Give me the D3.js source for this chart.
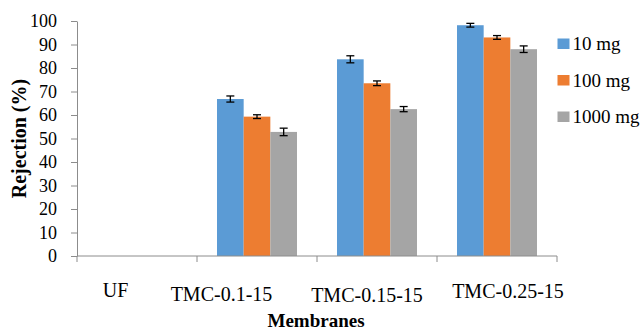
<!DOCTYPE html>
<html><head><meta charset="utf-8">
<script src="https://cdn.jsdelivr.net/npm/d3@7"></script>
<style>body{margin:0;background:#fff}svg{display:block}</style>
</head><body><svg id="c" width="643" height="331"></svg>
<script>
const categories = ["UF", "TMC-0.1-15", "TMC-0.15-15", "TMC-0.25-15"];
const seriesNames = ["10 mg", "100 mg", "1000 mg"];
const values10 = [0, 66.8, 83.7, 98.2];
const values100 = [0, 59.3, 73.5, 93.0];
const values1000 = [0, 52.8, 62.5, 88.0];
const err10 = [0, 1.3, 1.5, 0.8];
const err100 = [0, 0.8, 1.0, 0.8];
const err1000 = [0, 1.6, 1.1, 1.4];
const yTicks = [0,10,20,30,40,50,60,70,80,90,100];
const colors = ["#5B9BD5", "#ED7D31", "#A5A5A5"];
const labelShift = [-21.5, -35.5, -10, 11];
const labelDy = [-1, 3, 4, 0];
const FONT = "'Liberation Serif', 'Times New Roman', serif";

const svg = d3.select("#c").style("font-family", FONT);
const m = {l:77, r:86, t:21, b:75};
const W = 643, H = 331;
const x = d3.scaleBand().domain(categories).range([m.l, W - m.r]).paddingInner(0).paddingOuter(0);
const y = d3.scaleLinear().domain([0,100]).range([H - m.b, m.t]);
const inner = d3.scaleBand().domain(seriesNames).range([0, x.bandwidth()]).paddingOuter(0.75).paddingInner(0);
const allVals = [values10, values100, values1000];
const allErr = [err10, err100, err1000];

// bars
seriesNames.forEach((s, si) => {
  const g = svg.append("g");
  categories.forEach((c, ci) => {
    const v = allVals[si][ci];
    if (v <= 0) return;
    g.append("rect").attr("x", x(c) + inner(s)).attr("width", inner.bandwidth())
      .attr("y", y(v)).attr("height", y(0) - y(v)).attr("fill", colors[si]);
    const e = allErr[si][ci];
    const cx = x(c) + inner(s) + inner.bandwidth()/2;
    g.append("line").attr("x1", cx).attr("x2", cx).attr("y1", y(v+e)).attr("y2", y(v-e)).attr("stroke","#000").attr("stroke-width",1.3);
    [v+e, v-e].forEach(t => g.append("line").attr("x1", cx-4).attr("x2", cx+4).attr("y1", y(t)).attr("y2", y(t)).attr("stroke","#000").attr("stroke-width",1.3));
  });
});

// y axis
const ya = svg.append("g").attr("transform", `translate(${m.l},0)`)
  .call(d3.axisLeft(y).tickValues(yTicks).tickSize(6).tickSizeOuter(0).tickPadding(14));
ya.attr("font-family", null);
ya.select(".domain").attr("stroke", "#8c8c8c");
ya.selectAll(".tick line").attr("stroke", "#8c8c8c");
ya.selectAll(".tick text").attr("font-size", 18).attr("fill", "#000").style("font-family", FONT);

// x axis
const xa = svg.append("g").attr("transform", `translate(0,${y(0)})`);
xa.append("line").attr("x1", m.l).attr("x2", W - m.r).attr("y1", 0).attr("y2", 0).attr("stroke", "#8c8c8c");
const xb = categories.map(c => x(c)).concat([x(categories[categories.length-1]) + x.bandwidth()]);
xb.forEach(px => xa.append("line").attr("x1", px).attr("x2", px).attr("y1", 0).attr("y2", 6).attr("stroke", "#8c8c8c"));
categories.forEach((c, i) => {
  xa.append("text").attr("x", x(c) + x.bandwidth()/2 + labelShift[i]).attr("y", 42 + labelDy[i])
    .attr("text-anchor", "middle").attr("font-size", 20).style("font-family", FONT).text(c);
});

// axis titles
svg.append("text").attr("x", 316).attr("y", 327).attr("text-anchor","middle")
  .attr("font-size", 19).attr("font-weight","bold").style("font-family", FONT).text("Membranes");
svg.append("text").attr("transform", `translate(26,${138.5}) rotate(-90)`).attr("text-anchor","middle")
  .attr("font-size", 20).attr("font-weight","bold").style("font-family", FONT).text("Rejection (%)");

// legend
seriesNames.forEach((s, i) => {
  const top = 38.5 + i * 36.5;
  svg.append("rect").attr("x", 557.5).attr("y", top).attr("width", 12).attr("height", 10.5).attr("fill", colors[i]);
  svg.append("text").attr("x", 572.5).attr("y", top + 11.5).attr("font-size", 19).style("font-family", FONT).text(s);
});
</script></body></html>
